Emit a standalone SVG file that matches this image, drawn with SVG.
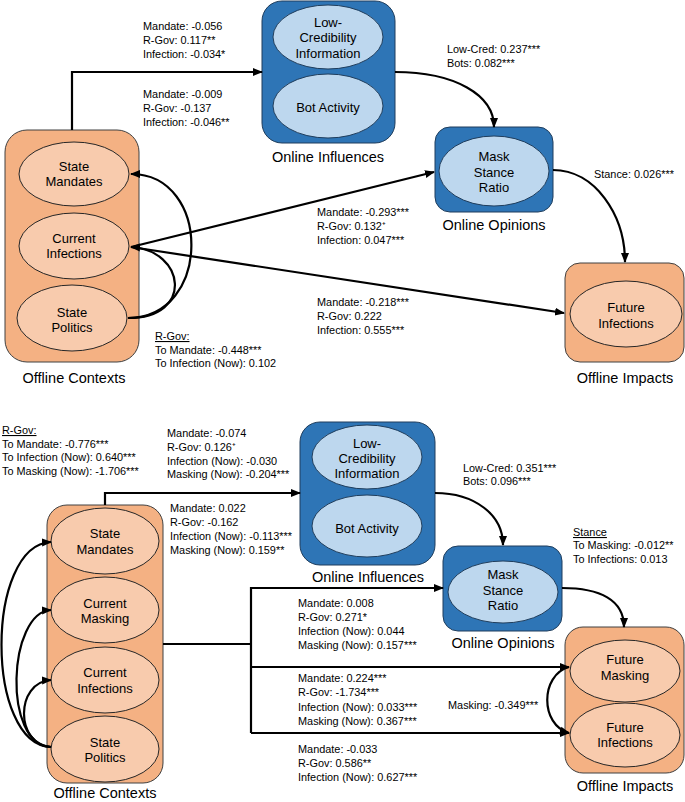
<svg xmlns="http://www.w3.org/2000/svg" width="685" height="802" viewBox="0 0 685 802">
<defs>
<style>
.obox{fill:#F4B183;stroke:#404040;stroke-width:1}
.oell{fill:#F8CBAD;stroke:#262626;stroke-width:1}
.bbox{fill:#2E75B6;stroke:#1F3D5C;stroke-width:1}
.bell{fill:#BDD7EE;stroke:#1F3D5C;stroke-width:1}
.nt{font-family:"Liberation Sans",Arial,sans-serif;font-size:13px;fill:#000;text-anchor:middle}
.gl{font-family:"Liberation Sans",Arial,sans-serif;font-size:14.5px;fill:#000;text-anchor:middle}
.lb{font-family:"Liberation Sans",Arial,sans-serif;font-size:10.9px;fill:#000}
.ul{text-decoration:underline}
.cn{fill:none;stroke:#000;stroke-width:2.2}
</style>
<marker id="ah" markerUnits="userSpaceOnUse" markerWidth="10" markerHeight="10" viewBox="0 0 10 10" refX="9" refY="5" orient="auto">
<path d="M0,1 L10,5 L0,9 Z" fill="#000"/>
</marker>
</defs>
<rect width="685" height="802" fill="#fff"/>

<!-- ===== TOP DIAGRAM ===== -->
<g id="top-offline-contexts">
<rect class="obox" x="5" y="130" width="134" height="232" rx="22"/>
<text class="gl" x="74" y="383">Offline Contexts</text>
</g>
<g id="top-state-mandates">
<ellipse class="oell" cx="74" cy="174" rx="55" ry="32"/>
<text class="nt" x="74" y="170.5">State</text>
<text class="nt" x="74" y="185.5">Mandates</text>
</g>
<g id="top-current-infections">
<ellipse class="oell" cx="74" cy="246" rx="55" ry="33"/>
<text class="nt" x="74" y="243">Current</text>
<text class="nt" x="74" y="258">Infections</text>
</g>
<g id="top-state-politics">
<ellipse class="oell" cx="72" cy="318" rx="55" ry="33"/>
<text class="nt" x="72" y="317">State</text>
<text class="nt" x="72" y="332">Politics</text>
</g>

<g id="top-online-influences">
<rect class="bbox" x="262" y="1" width="133" height="142" rx="20"/>
<text class="gl" x="328" y="162">Online Influences</text>
</g>
<g id="top-low-cred">
<ellipse class="bell" cx="328" cy="37" rx="55" ry="32"/>
<text class="nt" x="328" y="27">Low-</text>
<text class="nt" x="328" y="42">Credibility</text>
<text class="nt" x="328" y="58">Information</text>
</g>
<g id="top-bot-activity">
<ellipse class="bell" cx="328" cy="106" rx="55" ry="32"/>
<text class="nt" x="328" y="112">Bot Activity</text>
</g>

<g id="top-online-opinions">
<rect class="bbox" x="435" y="127" width="118" height="85" rx="15"/>
<text class="gl" x="494" y="230">Online Opinions</text>
</g>
<g id="top-mask-stance">
<ellipse class="bell" cx="494" cy="171" rx="55" ry="35"/>
<text class="nt" x="494" y="161">Mask</text>
<text class="nt" x="494" y="177">Stance</text>
<text class="nt" x="494" y="192">Ratio</text>
</g>

<g id="top-offline-impacts">
<rect class="obox" x="565" y="263" width="119" height="99" rx="15"/>
<text class="gl" x="625" y="383">Offline Impacts</text>
</g>
<g id="top-future-infections">
<ellipse class="oell" cx="626" cy="314" rx="56" ry="33"/>
<text class="nt" x="626" y="312">Future</text>
<text class="nt" x="626" y="328">Infections</text>
</g>

<!-- ===== BOTTOM DIAGRAM ===== -->
<g id="bot-offline-contexts">
<rect class="obox" x="47" y="505" width="116" height="278" rx="20"/>
<text class="gl" x="105" y="798">Offline Contexts</text>
</g>
<g id="bot-state-mandates">
<ellipse class="oell" cx="105" cy="541" rx="54" ry="33"/>
<text class="nt" x="105" y="538">State</text>
<text class="nt" x="105" y="554">Mandates</text>
</g>
<g id="bot-current-masking">
<ellipse class="oell" cx="105" cy="610" rx="54" ry="33"/>
<text class="nt" x="105" y="608">Current</text>
<text class="nt" x="105" y="623">Masking</text>
</g>
<g id="bot-current-infections">
<ellipse class="oell" cx="105" cy="680" rx="54" ry="33"/>
<text class="nt" x="105" y="677">Current</text>
<text class="nt" x="105" y="693">Infections</text>
</g>
<g id="bot-state-politics">
<ellipse class="oell" cx="105" cy="749" rx="54" ry="33"/>
<text class="nt" x="105" y="747">State</text>
<text class="nt" x="105" y="762">Politics</text>
</g>

<g id="bot-online-influences">
<rect class="bbox" x="300" y="422" width="135" height="143" rx="20"/>
<text class="gl" x="368" y="582">Online Influences</text>
</g>
<g id="bot-low-cred">
<ellipse class="bell" cx="367" cy="457" rx="55" ry="32"/>
<text class="nt" x="367" y="448">Low-</text>
<text class="nt" x="367" y="463">Credibility</text>
<text class="nt" x="367" y="478">Information</text>
</g>
<g id="bot-bot-activity">
<ellipse class="bell" cx="367" cy="526" rx="55" ry="31"/>
<text class="nt" x="367" y="533">Bot Activity</text>
</g>

<g id="bot-online-opinions">
<rect class="bbox" x="443" y="546" width="119" height="85" rx="15"/>
<text class="gl" x="503" y="648">Online Opinions</text>
</g>
<g id="bot-mask-stance">
<ellipse class="bell" cx="503" cy="592" rx="55" ry="31"/>
<text class="nt" x="503" y="579">Mask</text>
<text class="nt" x="503" y="595">Stance</text>
<text class="nt" x="503" y="610">Ratio</text>
</g>

<g id="bot-offline-impacts">
<rect class="obox" x="565" y="627" width="119" height="146" rx="18"/>
<text class="gl" x="625" y="791">Offline Impacts</text>
</g>
<g id="bot-future-masking">
<ellipse class="oell" cx="625" cy="671" rx="55" ry="31"/>
<text class="nt" x="625" y="664">Future</text>
<text class="nt" x="625" y="680">Masking</text>
</g>
<g id="bot-future-infections">
<ellipse class="oell" cx="625" cy="735" rx="55" ry="32"/>
<text class="nt" x="625" y="732">Future</text>
<text class="nt" x="625" y="747">Infections</text>
</g>

<!-- ===== CONNECTORS ===== -->
<g id="connectors">
<!-- top -->
<path class="cn" d="M72,130 V72 H262" marker-end="url(#ah)"/>
<path class="cn" d="M395,72 C455,72 494,95 494,127" marker-end="url(#ah)"/>
<path class="cn" d="M553,170 C595,170 625,215 625,262" marker-end="url(#ah)"/>
<path class="cn" d="M131,247 L434,172" marker-end="url(#ah)"/>
<path class="cn" d="M131,247 L564,313" marker-end="url(#ah)"/>
<path class="cn" d="M128,318 C212,318 212,174 131,174" marker-end="url(#ah)"/>
<path class="cn" d="M128,318 C195,318 185,250 131,247" marker-end="url(#ah)"/>
<!-- bottom -->
<path class="cn" d="M105,505 V493 H300" marker-end="url(#ah)"/>
<path class="cn" d="M435,493 C475,493 503,515 503,545" marker-end="url(#ah)"/>
<path class="cn" d="M562,588 C600,588 624,600 624,627" marker-end="url(#ah)"/>
<path class="cn" d="M163,644 H251"/>
<path class="cn" d="M251,733 V588 H443" marker-end="url(#ah)"/>
<path class="cn" d="M251,667 H569" marker-end="url(#ah)"/>
<path class="cn" d="M251,733 H569" marker-end="url(#ah)"/>
<path class="cn" d="M569,667 C540,675 540,725 569,733" marker-end="url(#ah)"/>
<path class="cn" d="M51,747 C-15,745 -15,545 51,542" marker-end="url(#ah)"/>
<path class="cn" d="M51,747 C2,745 8,612 51,610" marker-end="url(#ah)"/>
<path class="cn" d="M51,747 C15,745 15,682 51,680" marker-end="url(#ah)"/>
</g>

<!-- ===== LABELS ===== -->
<g id="labels">
<text class="lb" x="143" y="30">Mandate: -0.056</text>
<text class="lb" x="143" y="44">R-Gov: 0.117**</text>
<text class="lb" x="143" y="58">Infection: -0.034*</text>

<text class="lb" x="143" y="98">Mandate: -0.009</text>
<text class="lb" x="143" y="112">R-Gov: -0.137</text>
<text class="lb" x="143" y="126">Infection: -0.046**</text>

<text class="lb" x="447" y="53">Low-Cred: 0.237***</text>
<text class="lb" x="447" y="67">Bots: 0.082***</text>

<text class="lb" x="594" y="178">Stance: 0.026***</text>

<text class="lb" x="317" y="216">Mandate: -0.293***</text>
<text class="lb" x="317" y="230">R-Gov: 0.132⁺</text>
<text class="lb" x="317" y="244">Infection: 0.047***</text>

<text class="lb" x="317" y="306">Mandate: -0.218***</text>
<text class="lb" x="317" y="320">R-Gov: 0.222</text>
<text class="lb" x="317" y="334">Infection: 0.555***</text>

<text class="lb ul" x="155" y="340">R-Gov:</text>
<text class="lb" x="155" y="353.5">To Mandate: -0.448***</text>
<text class="lb" x="155" y="367">To Infection (Now): 0.102</text>

<text class="lb ul" x="2" y="434">R-Gov:</text>
<text class="lb" x="2" y="447.5">To Mandate: -0.776***</text>
<text class="lb" x="2" y="461">To Infection (Now): 0.640***</text>
<text class="lb" x="2" y="475">To Masking (Now): -1.706***</text>

<text class="lb" x="167" y="437">Mandate: -0.074</text>
<text class="lb" x="167" y="451">R-Gov: 0.126⁺</text>
<text class="lb" x="167" y="465">Infection (Now): -0.030</text>
<text class="lb" x="167" y="478">Masking (Now): -0.204***</text>

<text class="lb" x="170" y="512">Mandate: 0.022</text>
<text class="lb" x="170" y="526">R-Gov: -0.162</text>
<text class="lb" x="170" y="540">Infection (Now): -0.113***</text>
<text class="lb" x="170" y="554">Masking (Now): 0.159**</text>

<text class="lb" x="463" y="472">Low-Cred: 0.351***</text>
<text class="lb" x="463" y="485">Bots: 0.096***</text>

<text class="lb ul" x="573" y="536">Stance</text>
<text class="lb" x="573" y="549">To Masking: -0.012**</text>
<text class="lb" x="573" y="563">To Infections: 0.013</text>

<text class="lb" x="298" y="607">Mandate: 0.008</text>
<text class="lb" x="298" y="621">R-Gov: 0.271*</text>
<text class="lb" x="298" y="635">Infection (Now): 0.044</text>
<text class="lb" x="298" y="649">Masking (Now): 0.157***</text>

<text class="lb" x="298" y="682">Mandate: 0.224***</text>
<text class="lb" x="298" y="696">R-Gov: -1.734***</text>
<text class="lb" x="298" y="711">Infection (Now): 0.033***</text>
<text class="lb" x="298" y="725">Masking (Now): 0.367***</text>

<text class="lb" x="448" y="709">Masking: -0.349***</text>

<text class="lb" x="298" y="753">Mandate: -0.033</text>
<text class="lb" x="298" y="767">R-Gov: 0.586**</text>
<text class="lb" x="298" y="781">Infection (Now): 0.627***</text>
</g>
</svg>
